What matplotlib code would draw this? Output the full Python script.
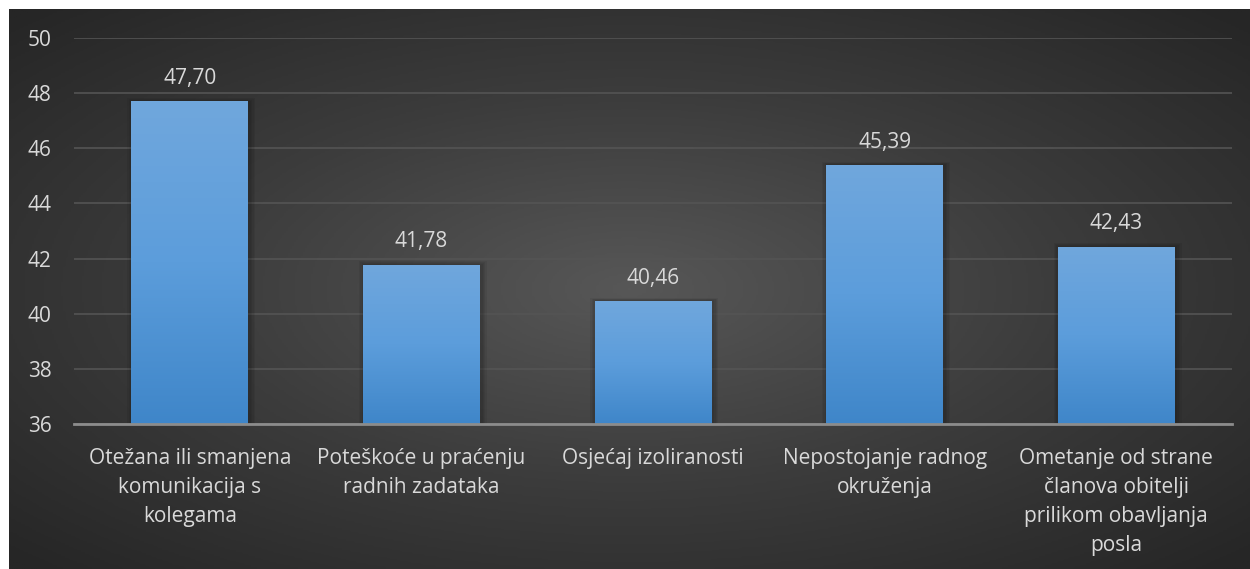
import numpy as np
import matplotlib.pyplot as plt
from matplotlib.colors import LinearSegmentedColormap

categories = ['Otežana ili smanjena\nkomunikacija s\nkolegama',
              'Poteškoće u praćenju\nradnih zadataka',
              'Osjećaj izoliranosti',
              'Nepostojanje radnog\nokruženja',
              'Ometanje od strane\nčlanova obitelji\nprilikom obavljanja\nposla']
values = [47.70, 41.78, 40.46, 45.39, 42.43]
y_ticks = [36, 38, 40, 42, 44, 46, 48, 50]

plt.rcParams['font.family'] = ['Open Sans', 'DejaVu Sans']

fig = plt.figure(figsize=(12.5, 5.69), dpi=100)
fig.patch.set_facecolor('white')

# dark radial background panel
bg = fig.add_axes([9 / 1250, 0, 1 - 9 / 1250, 1 - 9 / 569])
bg.set_axis_off()
yy, xx = np.mgrid[-1:1:300j, -1:1:600j]
r = np.sqrt((xx * 0.9) ** 2 + (yy * 0.9) ** 2)
bg_cmap = LinearSegmentedColormap.from_list('bg', ['#575757', '#3c3c3c', '#262626'])
bg.imshow(np.clip(r / 1.25, 0, 1), cmap=bg_cmap, aspect='auto', extent=[0, 1, 0, 1], vmin=0, vmax=1)
bg.set_xlim(0, 1)
bg.set_ylim(0, 1)

ax = fig.add_axes([74 / 1250, 1 - 424 / 569, (1232 - 74) / 1250, (424 - 38) / 569])
ax.patch.set_alpha(0)

x = np.arange(len(categories))
bars = ax.bar(x, [v - 36 for v in values], bottom=36, width=0.505, color='none', zorder=3)

bar_cmap = LinearSegmentedColormap.from_list('bar', ['#3f86c9', '#5c9ddb', '#70a7dd'])
grad = np.linspace(0, 1, 256).reshape(-1, 1)
for b in bars:
    bx, by = b.get_x(), b.get_y()
    w, h = b.get_width(), b.get_height()
    # soft shadow, a few faint layers
    for k in range(1, 5):
        ax.bar(bx + w / 2 + 0.006, h + 0.03 * k, bottom=by, width=w + 0.012 * k,
               color='black', alpha=0.06, zorder=2, linewidth=0)
    im = ax.imshow(grad, cmap=bar_cmap, origin='lower', aspect='auto',
                   extent=[bx, bx + w, by, by + h], zorder=3)
    im.set_clip_path(b)

for xi, v in zip(x, values):
    ax.text(xi, v + 0.45, f'{v:.2f}'.replace('.', ','), ha='center', va='bottom',
            color='#d9d9d9', fontsize=15)

ax.set_xlim(-0.5, len(categories) - 0.5)
ax.set_ylim(36, 50)
ax.set_yticks(y_ticks)
ax.set_xticks(x)
ax.set_xticklabels(categories, color='#d9d9d9', fontsize=15, linespacing=1.5)
ax.tick_params(axis='y', colors='#d9d9d9', labelsize=15, length=0, pad=16)
ax.tick_params(axis='x', length=0, pad=17)
ax.grid(axis='y', color='#545454', linewidth=1.2, zorder=0)
ax.set_axisbelow(True)
for s in ['top', 'right', 'left']:
    ax.spines[s].set_visible(False)
ax.spines['bottom'].set_color('#8c8c8c')
ax.spines['bottom'].set_linewidth(2)
ax.spines['bottom'].set_zorder(4)

fig.savefig('out.png', dpi=100)
